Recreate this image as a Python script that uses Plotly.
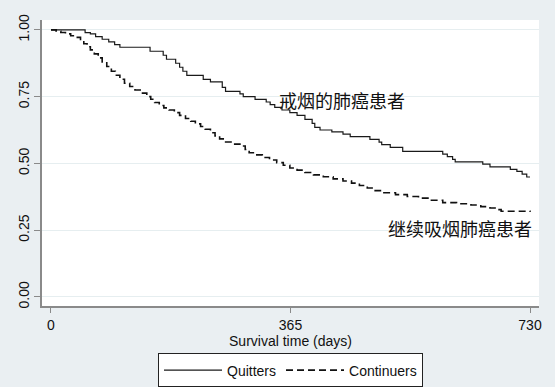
import plotly.graph_objects as go

# Kaplan-Meier style step data (days, survival proportion)
quit_days = [0, 52, 60, 68, 78, 88, 97, 105, 151, 171, 176, 190, 196, 201, 207, 232, 243, 261, 266,
             288, 293, 311, 328, 334, 341, 352, 364, 375, 387, 398, 402, 410, 428, 445, 456, 486, 500,
             504, 517, 536, 597, 604, 612, 616, 658, 669, 700, 710, 718, 725, 730]
quit_surv = [1.0, 0.99, 0.985, 0.975, 0.965, 0.955, 0.945, 0.935, 0.92, 0.905, 0.89, 0.875, 0.86, 0.845,
             0.83, 0.815, 0.805, 0.785, 0.77, 0.76, 0.75, 0.74, 0.73, 0.72, 0.71, 0.70, 0.69, 0.68, 0.665,
             0.65, 0.635, 0.625, 0.618, 0.61, 0.60, 0.59, 0.58, 0.57, 0.56, 0.545, 0.535, 0.525, 0.515,
             0.506, 0.497, 0.487, 0.478, 0.47, 0.46, 0.449, 0.449]

cont_days = [0, 8, 15, 22, 30, 38, 45, 50, 55, 60, 66, 72, 78, 85, 92, 98, 105, 112, 120, 128, 136, 146,
             152, 158, 165, 172, 180, 188, 196, 205, 213, 220, 228, 235, 243, 250, 257, 264, 280, 290, 296,
             302, 312, 322, 333, 344, 354, 364, 375, 387, 400, 415, 430, 445, 458, 470, 482, 494, 506, 525,
             543, 560, 578, 597, 618, 640, 655, 669, 678, 686, 730]
cont_surv = [1.0, 0.995, 0.99, 0.985, 0.978, 0.972, 0.96, 0.948, 0.937, 0.925, 0.91, 0.895, 0.88, 0.863,
             0.845, 0.83, 0.815, 0.80, 0.788, 0.775, 0.763, 0.75, 0.74, 0.728, 0.717, 0.708, 0.70, 0.69,
             0.68, 0.668, 0.658, 0.648, 0.638, 0.628, 0.615, 0.603, 0.592, 0.58, 0.572, 0.565, 0.552, 0.54,
             0.532, 0.522, 0.513, 0.503, 0.493, 0.483, 0.475, 0.466, 0.457, 0.45, 0.442, 0.434, 0.426,
             0.417, 0.408, 0.398, 0.39, 0.383, 0.376, 0.37, 0.362, 0.353, 0.349, 0.344, 0.338, 0.333,
             0.327, 0.321, 0.318]

x_ticks = [0, 365, 730]
y_ticks = [0.0, 0.25, 0.5, 0.75, 1.0]
y_tick_text = ["0.00", "0.25", "0.50", "0.75", "1.00"]

label_quit = "戒烟的肺癌患者"
label_cont = "继续吸烟肺癌患者"

fig = go.Figure()
fig.add_trace(go.Scatter(x=quit_days, y=quit_surv, mode="lines", name="Quitters",
                         line=dict(color="#1a1a1a", width=1.2, shape="hv")))
fig.add_trace(go.Scatter(x=cont_days, y=cont_surv, mode="lines", name="Continuers",
                         line=dict(color="#111111", width=1.6, shape="hv", dash="7px,4px")))

fig.add_annotation(x=443, y=0.738, text=label_quit, showarrow=False,
                   font=dict(family="Noto Sans CJK SC", size=18, color="#111111"))
fig.add_annotation(x=623, y=0.258, text=label_cont, showarrow=False,
                   font=dict(family="Noto Sans CJK SC", size=18, color="#111111"))

fig.update_layout(
    width=555, height=387,
    margin=dict(l=42, r=16, t=20, b=81, autoexpand=False),
    paper_bgcolor="#eaeff2",
    plot_bgcolor="#ffffff",
    font=dict(family="Liberation Sans, Arial, sans-serif", size=14, color="#111111"),
    showlegend=True,
    legend=dict(orientation="h", x=0.5, xanchor="center", y=-0.2255, yanchor="middle",
                bgcolor="#ffffff", bordercolor="#222222", borderwidth=1,
                font=dict(size=14), itemwidth=58, tracegroupgap=0),
)
fig.update_xaxes(range=[-13.7, 743.7], tickvals=x_ticks, ticktext=[str(v) for v in x_ticks],
                 showgrid=False, zeroline=False, showline=True, linecolor="#8a8a8a", linewidth=1.5,
                 ticks="outside", ticklen=5, tickcolor="#8a8a8a", automargin=False,
                 title=dict(text="Survival time (days)", standoff=4, font=dict(size=14)))
fig.update_yaxes(range=[-0.034, 1.037], tickvals=y_ticks, ticktext=y_tick_text, tickangle=-90,
                 showgrid=True, gridcolor="#e6eef0", gridwidth=1, zeroline=False,
                 showline=True, linecolor="#8a8a8a", linewidth=1.5, automargin=False,
                 ticks="outside", ticklen=6, tickcolor="#8a8a8a")

fig.write_html("out.html", config={"displayModeBar": False},
               post_script="document.body.style.margin='0';document.body.style.padding='0';")
